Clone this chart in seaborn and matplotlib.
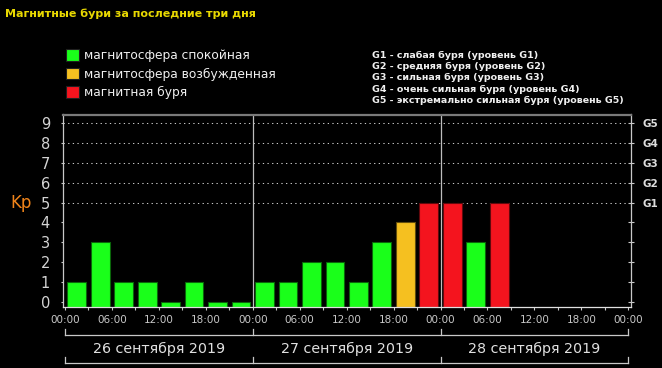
#load libraries
import pandas as pd
import seaborn as sns
import matplotlib.pyplot as plt
import matplotlib.transforms as mtransforms
from matplotlib.patches import Patch
from matplotlib.colors import to_rgb

#data: Kp index per 3-hour interval, 26-28 Sep 2019
slot_start = [0, 3, 6, 9, 12, 15, 18, 21,
              24, 27, 30, 33, 36, 39, 42, 45,
              48, 51, 54]
kp = [1, 3, 1, 1, 0, 1, 0, 0,
      1, 1, 2, 2, 1, 3, 4, 5,
      5, 3, 5]
status_names = ['магнитосфера спокойная', 'магнитосфера возбужденная', 'магнитная буря']
status_colors = ['#1aff1a', '#f5c020', '#f4141e']
days = ['26 сентября 2019', '27 сентября 2019', '28 сентября 2019']
day_edges = [0, 24, 48, 72]
time_ticks = [0, 6, 12, 18, 24, 30, 36, 42, 48, 54, 60, 66, 72]
time_labels = ['00:00', '06:00', '12:00', '18:00'] * 3 + ['00:00']
storm_levels = [5, 6, 7, 8, 9]
storm_labels = ['G1', 'G2', 'G3', 'G4', 'G5']
storm_desc = ['G1 - слабая буря (уровень G1)',
              'G2 - средняя буря (уровень G2)',
              'G3 - сильная буря (уровень G3)',
              'G4 - очень сильная буря (уровень G4)',
              'G5 - экстремально сильная буря (уровень G5)']
title = 'Магнитные бури за последние три дня'

def kp_status(v):
    if v >= 5:
        return status_names[2]
    if v == 4:
        return status_names[1]
    return status_names[0]

ymin, ymax = -0.25, 9.44
df = pd.DataFrame({'t': [s + 1.5 for s in slot_start], 'kp': kp})
df['status'] = df['kp'].apply(kp_status)
df['h'] = df['kp'] - ymin   # bars start at the bottom of the axes

W, H = 662, 368
fig = plt.figure(figsize=(W / 100, H / 100), dpi=100, facecolor='black')
ax = fig.add_axes([62.5 / W, 1 - 306.7 / H, (631 - 62.5) / W, (306.7 - 114.5) / H])
ax.set_facecolor('black')

sns.barplot(data=df, x='t', y='h', hue='status', hue_order=status_names,
            palette=dict(zip(status_names, status_colors)), native_scale=True,
            width=0.8, dodge=False, bottom=ymin, legend=False, saturation=1, ax=ax)
for p in ax.patches:
    r, g, b = to_rgb(p.get_facecolor())
    p.set_edgecolor((r * 0.4, g * 0.4, b * 0.4))
    p.set_linewidth(0.8)

ax.set_xlim(-0.32, 72.35)
ax.set_ylim(ymin, ymax)
ax.set_xlabel('')
ax.set_ylabel('')

#dotted storm levels and day separators
for lv in storm_levels:
    ax.axhline(lv, color='#c8c8c8', lw=0.75, linestyle=(0, (1.25, 3.2)), zorder=0)
for d in day_edges[1:-1]:
    ax.axvline(d, color='#bdbdbd', lw=0.9, zorder=0)

#spines
ax.spines['top'].set_color('#7a7a7a')
ax.spines['top'].set_linewidth(1.6)
for s in ['left', 'right']:
    ax.spines[s].set_color('#c8c8c8')
    ax.spines[s].set_linewidth(0.9)
ax.spines['bottom'].set_color('#e0e0e0')
ax.spines['bottom'].set_linewidth(0.9)

#ticks
ax.set_yticks(range(10))
ax.tick_params(axis='y', colors='#c8c8c8', labelcolor='#d4d4d4', length=1.5,
               width=0.8, pad=7.5, labelsize=10.5)
ax.set_xticks(time_ticks)
ax.set_xticklabels(time_labels)
ax.set_xticks(range(3, 72, 6), minor=True)
ax.tick_params(axis='x', which='both', colors='#c8c8c8', labelcolor='#c8c8c8',
               length=2.4, width=0.8, pad=3.5, labelsize=7.5)

ax2 = ax.twinx()
ax2.set_ylim(ymin, ymax)
ax2.set_yticks(range(10))
ax2.set_yticklabels([''] * 5 + storm_labels)
for s in ax2.spines.values():
    s.set_visible(False)
ax2.tick_params(axis='y', direction='inout', length=4, width=0.8, colors='#c8c8c8',
                labelcolor='#dcdcdc', pad=6, labelsize=7.5)
for t in ax2.get_yticklabels():
    t.set_fontweight('bold')

#day brackets under the time axis
trans = mtransforms.blended_transform_factory(ax.transData, fig.transFigure)
def fy(px):
    return 1 - px / H
for y_line, y_tip in [(335, 329.3), (362.7, 356.7)]:
    ax.plot([day_edges[0], day_edges[-1]], [fy(y_line)] * 2, color='#c8c8c8',
            lw=0.9, transform=trans, clip_on=False)
    for d in day_edges:
        ax.plot([d, d], [fy(y_line), fy(y_tip)], color='#c8c8c8', lw=0.9,
                transform=trans, clip_on=False)
for i, day in enumerate(days):
    ax.text((day_edges[i] + day_edges[i + 1]) / 2, fy(349), day, transform=trans,
            ha='center', va='center', color='#e0e0e0', fontsize=10.3)

#texts
fig.text(5 / W, fy(14), title, color='#e8d800', fontsize=8, fontweight='bold',
         ha='left', va='center')
fig.text(21.5 / W, fy(203), 'Kp', color='#f0841a', fontsize=12, ha='center', va='center')
for i, line in enumerate(storm_desc):
    fig.text(372 / W, fy(55 + 11.4 * i), line, color='#f0f0f0', fontsize=6.8,
             fontweight='bold', ha='left', va='center')

handles = [Patch(facecolor=c, edgecolor='#202020', lw=0.8) for c in status_colors]
fig.legend(handles, status_names, loc='upper left', bbox_to_anchor=(65.7 / W, fy(49)),
           frameon=False, fontsize=8.8, labelcolor='#f0f0f0', handlelength=1.1,
           handleheight=1.1, handletextpad=0.4, labelspacing=0.45, borderpad=0,
           borderaxespad=0)

plt.savefig('out.png', dpi=100, facecolor='black')
